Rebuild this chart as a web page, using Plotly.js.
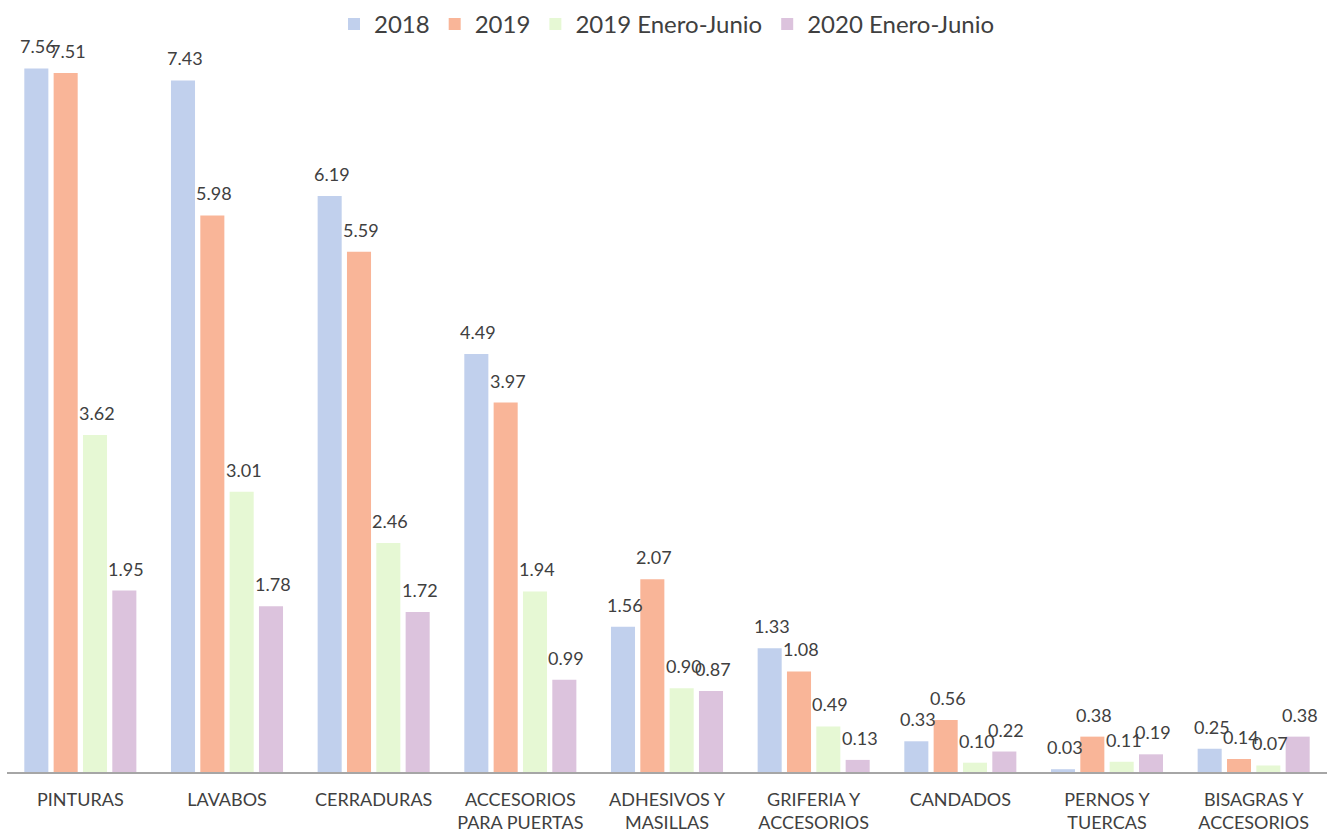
<!DOCTYPE html>
<html>
<head>
<meta charset="utf-8">
<script src="https://cdn.plot.ly/plotly-3.0.1.min.js"></script>
<style>
  html, body { margin: 0; padding: 0; background: #ffffff; }
  #chart { width: 1329px; height: 835px; }
</style>
</head>
<body>
<div id="chart"></div>
<script>
// Product categories (two-line labels where the name wraps)
const categories = [
  'PINTURAS',
  'LAVABOS',
  'CERRADURAS',
  'ACCESORIOS<br>PARA PUERTAS',
  'ADHESIVOS Y<br>MASILLAS',
  'GRIFERIA Y<br>ACCESORIOS',
  'CANDADOS',
  'PERNOS Y<br>TUERCAS',
  'BISAGRAS Y<br>ACCESORIOS'
];

const seriesNames = ['2018', '2019', '2019 Enero-Junio', '2020 Enero-Junio'];

const values2018 = [7.56, 7.43, 6.19, 4.49, 1.56, 1.33, 0.33, 0.03, 0.25];
const values2019 = [7.51, 5.98, 5.59, 3.97, 2.07, 1.08, 0.56, 0.38, 0.14];
const values2019H1 = [3.62, 3.01, 2.46, 1.94, 0.90, 0.49, 0.10, 0.11, 0.07];
const values2020H1 = [1.95, 1.78, 1.72, 0.99, 0.87, 0.13, 0.22, 0.19, 0.38];

const seriesValues = [values2018, values2019, values2019H1, values2020H1];
const seriesColors = ['#c1d0ed', '#f9b598', '#e6f8d4', '#dcc3dd'];

const FONT = 'Lato, "Open Sans", sans-serif';
const TEXT_COLOR = '#404040';

const traces = seriesValues.map((vals, i) => ({
  type: 'bar',
  name: seriesNames[i],
  x: categories,
  y: vals,
  marker: { color: seriesColors[i], line: { width: 0 } },
  hoverinfo: 'x+y+name'
}));

// Value labels sitting above each bar of the grouped layout
const bargap = 0.2;
const nSeries = seriesValues.length;
const plotWidth = 1329 - 7 - 2;
const slotPx = (plotWidth / categories.length) * (1 - bargap) / nSeries;

const annotations = [];
seriesValues.forEach((vals, i) => {
  vals.forEach((v, j) => {
    annotations.push({
      x: categories[j],
      y: v,
      xref: 'x',
      yref: 'y',
      text: v.toFixed(2),
      showarrow: false,
      yanchor: 'bottom',
      xanchor: 'center',
      xshift: (i - (nSeries - 1) / 2) * slotPx + 2,
      yshift: 9,
      font: { family: FONT, size: 18, color: TEXT_COLOR }
    });
  });
});

const layout = {
  width: 1329,
  height: 835,
  margin: { l: 7, r: 2, t: 60, b: 63 },
  paper_bgcolor: '#ffffff',
  plot_bgcolor: '#ffffff',
  barmode: 'group',
  bargap: bargap,
  bargroupgap: 0.18,
  showlegend: true,
  legend: {
    orientation: 'h',
    x: 0.5,
    xanchor: 'center',
    y: 1.05,
    yanchor: 'middle',
    font: { family: FONT, size: 24, color: TEXT_COLOR },
    itemwidth: 30
  },
  xaxis: {
    type: 'category',
    showline: true,
    linecolor: '#a6a6a6',
    linewidth: 2,
    showgrid: false,
    zeroline: false,
    ticks: 'outside',
    ticklen: 10,
    tickcolor: 'rgba(0,0,0,0)',
    tickfont: { family: FONT, size: 18, color: TEXT_COLOR },
    fixedrange: true
  },
  yaxis: {
    range: [0, 7.65],
    visible: false,
    showgrid: false,
    zeroline: false,
    fixedrange: true
  },
  annotations: annotations
};

Plotly.newPlot('chart', traces, layout, { displayModeBar: false });
</script>
</body>
</html>
